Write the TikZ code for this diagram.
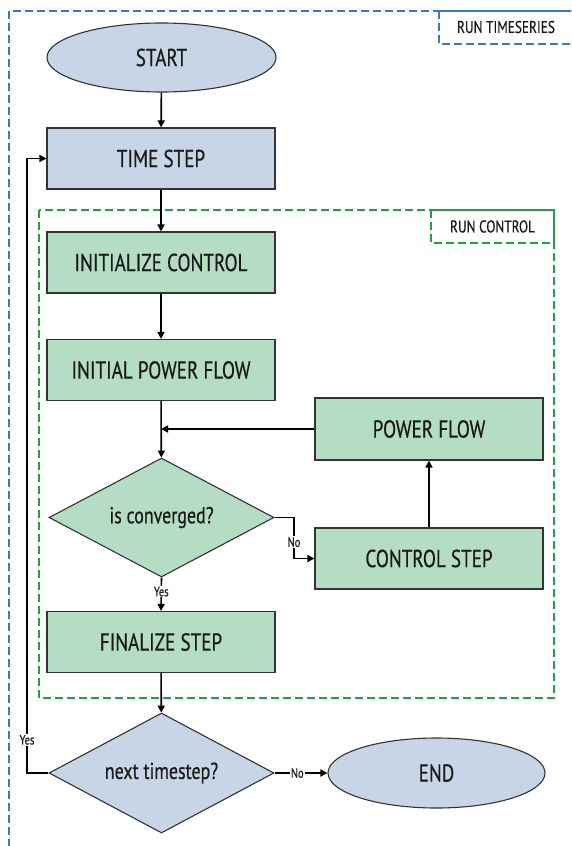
\documentclass[tikz,border=0pt]{standalone}
\usepackage{fontspec}
\setmainfont{PT Sans}[FakeStretch=0.78,FakeBold=0.5]
\usetikzlibrary{shapes.geometric,arrows.meta}
\definecolor{bfill}{HTML}{C8D5E6}
\definecolor{gfill}{HTML}{B4DDC4}
\definecolor{bdash}{HTML}{3F78C0}
\definecolor{gdash}{HTML}{22A046}
\definecolor{edge}{HTML}{333333}
\definecolor{ink}{HTML}{1A1A1A}
\tikzset{
  box/.style={draw=edge, line width=1.1pt, rectangle, minimum width=228pt, minimum height=61pt, inner sep=0pt, text=ink, font=\fontsize{24.5}{24.5}\selectfont},
  bluebox/.style={box, fill=bfill},
  greenbox/.style={box, fill=gfill},
  oval/.style={draw=edge, line width=1.1pt, ellipse, fill=bfill, inner sep=0pt, text=ink, font=\fontsize{24.5}{24.5}\selectfont},
  decision/.style={draw=edge, line width=1.1pt, diamond, aspect=1.89, inner sep=0pt, minimum width=225pt, minimum height=119pt, text=ink, font=\fontsize{23}{23}\selectfont},
  arr/.style={draw=black, line width=1.6pt, -{Triangle[length=7pt,width=7pt]}},
  lbl/.style={fill=white, inner sep=1pt, text=ink, font=\fontsize{13.5}{13.5}\selectfont},
  bdashed/.style={draw=bdash, line width=1.3pt, dash pattern=on 8pt off 4pt},
  gdashed/.style={draw=gdash, line width=1.3pt, dash pattern=on 8pt off 4pt},
  tag/.style={text=ink, font=\fontsize{17}{17}\selectfont}
}
\begin{document}
\begin{tikzpicture}[x=1pt,y=-1pt]
\useasboundingbox (0,0) rectangle (571,846);
\fill[white] (0,0) rectangle (571,846);
\begin{scope}
\clip (0,0) rectangle (571,846);
\draw[bdashed] (9,11) rectangle (620,900);
\draw[bdashed] (439,11) rectangle (620,44);
\end{scope}
\node[tag] (tsLabel) at (506,27) {RUN TIMESERIES};
\draw[gdashed] (39,210) rectangle (554,698);
\draw[gdashed] (431,210) rectangle (554,243);
\node[tag] (rcLabel) at (492.5,226.5) {RUN CONTROL};

\node[oval, minimum width=229pt, minimum height=69pt] (start) at (161.5,57.5) {START};
\node[bluebox] (timestep) at (161,158.5) {TIME STEP};
\node[greenbox] (initctrl) at (161,262.5) {INITIALIZE CONTROL};
\node[greenbox] (initpf) at (161,370) {INITIAL POWER FLOW};
\node[greenbox, minimum height=62pt] (pf) at (429,429) {POWER FLOW};
\node[decision, fill=gfill] (conv) at (161.5,517.5) {is converged?};
\node[greenbox] (ctrlstep) at (429,558.5) {CONTROL STEP};
\node[greenbox] (finalize) at (161,642) {FINALIZE STEP};
\node[decision, fill=bfill, minimum height=120pt] (next) at (161.5,773) {next timestep?};
\node[oval, minimum width=217pt, minimum height=70pt] (end) at (436.5,773) {END};

\coordinate (nojog) at (294,517.5);
\coordinate (loopc) at (27,773);

\draw[arr] (start) -- (timestep);
\draw[arr] (timestep) -- (initctrl);
\draw[arr] (initctrl) -- (initpf);
\draw[arr] (initpf) -- (conv);
\draw[arr] (pf.west) -- (pf.west -| initpf.south);
\draw[arr] (conv.east) -- (nojog) |- node[lbl, pos=0.3] {No} (ctrlstep.west);
\draw[arr] (ctrlstep) -- (pf);
\draw[arr] (conv.south) -- node[lbl, pos=0.42] {Yes} (finalize.north);
\draw[arr] (finalize) -- (next);
\draw[arr] (next.east) -- node[lbl, pos=0.43] {No} (end.west);
\draw[arr] (next.west) -- (loopc) -- node[lbl, pos=0.054] {Yes} (loopc |- timestep.west) -- (timestep.west);
\end{tikzpicture}
\end{document}
